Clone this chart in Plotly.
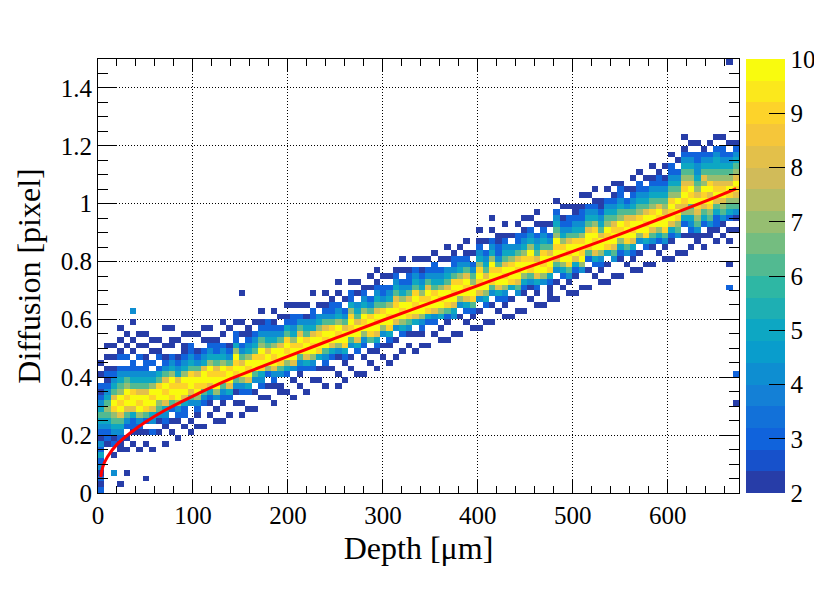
import numpy as np
import plotly.graph_objects as go

### histogram binning (100 depth bins from 0 to 675 um, 75 diffusion bins from 0 to 1.5 pixel)
n_depth_bins = 100
n_diff_bins = 75
depth_max = 675.0
diff_max = 1.5

### bin contents read column by column: first filled diffusion bin of every depth column,
### then one character per diffusion bin going up ('.' = empty, 2-9 = counts, 'a' = 10 or more)
col_start = [0, 8, 6, 7, 7, 7, 7, 7, 7, 8,
             8, 9, 9, 9, 10, 10, 11, 11, 11, 12,
             12, 13, 13, 13, 14, 14, 15, 15, 15, 16,
             16, 17, 17, 17, 18, 18, 19, 19, 19, 20,
             20, 21, 21, 21, 22, 22, 23, 23, 23, 24,
             24, 25, 25, 25, 26, 26, 27, 27, 27, 28,
             28, 29, 29, 29, 30, 30, 31, 31, 31, 32,
             32, 33, 33, 33, 34, 34, 35, 35, 35, 36,
             36, 37, 37, 37, 38, 38, 39, 39, 39, 40,
             40, 41, 41, 41, 42, 42, 43, 43, 43, 44]

col_counts = [
    "3232435342345654323.2.2", "23345676543232.2.2", "2.3245679a865432.2.2", "2234568a9a76543.32.2.2",
    "2.2.3468a9a7643.3.2.2", ".2.23358aa965433.2.2..2", "2..2347a9a86543.3.2.2", ".2.2.369aa8654332.2.2",
    "2..3.458a9a754.3.2.2", "..2.2467aa9653.32.2", "2..23458a9a86432.2..2", ".2.2.369a9a7543.22.2",
    "2..2347aa985432..2", "..2.3358a9a754322.2", "2.2..468aa965433.2", ".2.2347a9a86432..2",
    "2...3469aa8543.2.2", "..2.2358a9a75432.2", ".2.2.47aa9865332", "2..2346a9a7543.2.2",
    ".2..358aa96432..2", "..2.2469a9a7533.2", "2.2.347aa8643.2.2", ".2..358a9a754322",
    "2..2.46aa96543.2", "..2.3459a9a76432.2", ".2.2.37aa865433", "2..2348a9a75432.2",
    "..22.469aa8643.2", ".2..357a9a96532.2", "2..2.48aa975433.2", ".2.2346a9a8643.2",
    "2...358aa96542.2", "..2.347a9a85433..2", ".2.2.59aa9754.2", "2..2346a9a86432.2",
    "..2.358aa964332", ".2..247a9a7543.2.2", "2..2359aa8643.2", ".2.2.46a9a97533.2",
    "2...358aa8654.2.2", "..2.347a9a75432", ".2.2.69aa9643.2.2", "2..2358a9a865432.2",
    ".2.2.47aa96433.2", "2..2359a9a7543.2", "2..2.48aa9865432", ".2..357a9a7543.2.2",
    "..2.2469aa864332", "2..2.58a9a96543.2", ".2.2347aa975432.2", "2...359a9a8643.2",
    "..2.348aa965433.2", ".2.2.57a9a7543.2", "2..2369aa8654.2.2", ".2..458a9a964332",
    "2..2.47aa97543.2", "..2.358a9a86432.2", ".2.2369aa7643.2", "2..2.48a9a975432.2",
    ".2..357aa86543.2", "2..2.469a9a7543.2.2", "..2.358aa9643322", ".2.2347a9a865432.2",
    "2..2.59aa9754.2", ".2..468a9a86433.2", "2..2357aa975432.2", "..2.2469a9a7543.2",
    ".2.2358aa86543.2.2", "2...47a9a965432", ".2.2359aa8643.2", "2..2.468a9a76543.2",
    "..2.357aa975432.2", ".2.2469a9a86433.2", "2..2358aa9654322", ".2..47a9a9754332.2",
    "2..2.369aa86543.2", "..2.358a9a975432.2", ".2.2347aa8654322", "2..2.59a9a76543.2",
    ".2..468aa9865432.2", "2..2357a9a7654332", "..2.469aa98643.2", ".2.2358a9a865432.2",
    "2..2.47aa9765433.2", ".2..359a9a86543.2", "2..2468aa9765432.2", "..2.357a9a8654332",
    ".2.2469aa8765432.2", "2..2358a9a9765433.2", ".2..4679a8a76543.2", "2..2.35789a98765432.2",
    ".2.234576a9a876543.2", "..2246789a87654433.2", "2.2.3568a9a7865432", "..224679a8a976543.2",
    "2.233568a98765543.2", ".2.24678a98765433.2", "2.2.35679a876543.2", ".2.246789a8765432",
]

### isolated bins away from the band: depth bin, diffusion bin, count
out_col = [2, 3, 4, 7, 5, 22, 30, 37, 41, 70, 98, 98, 98, 99, 99]
out_row = [3, 1, 3, 2, 31, 34, 16, 18, 20, 34, 35, 39, 74, 15, 20]
out_count = [4, 2, 2, 2, 4, 2, 2, 2, 2, 2, 3, 2, 2, 2, 3]

### fitted curve
fit_depth = [3, 5, 10, 20, 35, 50, 70, 100, 140, 175, 200, 250, 300, 350, 400, 450, 500, 550, 600, 650, 672]
fit_diff = [0.055, 0.09, 0.125, 0.168, 0.21, 0.245, 0.285, 0.335, 0.395, 0.44, 0.472, 0.535,
            0.597, 0.657, 0.717, 0.777, 0.835, 0.895, 0.958, 1.022, 1.052]

### build the z matrix
def count_of(ch):
    if ch == '.':
        return None
    if ch == 'a':
        return 10
    return int(ch)

z = [[None] * n_depth_bins for _ in range(n_diff_bins)]
for i, (s, cells) in enumerate(zip(col_start, col_counts)):
    for k, ch in enumerate(cells):
        c = count_of(ch)
        if c is not None and s + k < n_diff_bins:
            z[s + k][i] = c + 0.01  # nudge off the contour edges
for i, j, c in zip(out_col, out_row, out_count):
    z[j][i] = c + 0.01

depth_w = depth_max / n_depth_bins
diff_w = diff_max / n_diff_bins
depth_centers = [(i + 0.5) * depth_w for i in range(n_depth_bins)]
diff_centers = [(j + 0.5) * diff_w for j in range(n_diff_bins)]

### ROOT kBird palette, 20 contour levels
stops = [0.0, 0.125, 0.25, 0.375, 0.5, 0.625, 0.75, 0.875, 1.0]
red = [0.2082, 0.0592, 0.0780, 0.0232, 0.1802, 0.5301, 0.8186, 0.9956, 0.9764]
green = [0.1664, 0.3599, 0.5041, 0.6419, 0.7178, 0.7492, 0.7328, 0.7862, 0.9832]
blue = [0.5293, 0.8684, 0.8385, 0.7914, 0.6425, 0.4662, 0.3499, 0.1968, 0.0539]
n_levels = 20
colorscale = []
for k in range(n_levels):
    f = int((k + 0.99) * 255 / n_levels) / 254.0
    rgb = 'rgb(%d,%d,%d)' % (round(255 * np.interp(f, stops, red)),
                             round(255 * np.interp(f, stops, green)),
                             round(255 * np.interp(f, stops, blue)))
    colorscale.append([k / n_levels, rgb])
    colorscale.append([(k + 1) / n_levels, rgb])

serif = "Times New Roman, Liberation Serif, serif"
label_font = dict(family=serif, size=25, color='black')

fig = go.Figure()
fig.add_trace(go.Heatmap(
    x=depth_centers, y=diff_centers, z=z,
    zmin=2, zmax=10, colorscale=colorscale, zsmooth=False,
    hoverongaps=False,
    colorbar=dict(x=1.0104, xanchor='left', xpad=0, y=0.5, yanchor='middle', ypad=0,
                  len=1, lenmode='fraction', thickness=39, thicknessmode='pixels',
                  outlinewidth=0, ticks='inside', ticklen=16, tickwidth=1, tickcolor='black',
                  tickvals=[2, 3, 4, 5, 6, 7, 8, 9, 10],
                  tickfont=label_font),
))
fig.add_trace(go.Scatter(x=fit_depth, y=fit_diff, mode='lines',
                         line=dict(color='#ff0000', width=3, shape='spline'),
                         hoverinfo='skip'))

axis_common = dict(showline=True, linecolor='black', linewidth=1, mirror='ticks',
                   ticks='inside', tickcolor='black', tickwidth=1,
                   showgrid=True, gridcolor='black', gridwidth=1, griddash='1px,2px',
                   zeroline=False, automargin=False, tickfont=label_font)

fig.update_xaxes(range=[0, depth_max], dtick=100, tick0=0, ticklen=13,
                 minor=dict(ticks='inside', ticklen=7, dtick=20, tickcolor='black', showgrid=False),
                 title=dict(text='Depth [μm]', font=dict(family=serif, size=32, color='black'), standoff=8),
                 **axis_common)
fig.update_yaxes(range=[0, diff_max], dtick=0.2, tick0=0, ticklen=19,
                 minor=dict(ticks='inside', ticklen=10, dtick=0.05, tickcolor='black', showgrid=False),
                 title=dict(text='Diffusion [pixel]', font=dict(family=serif, size=32, color='black'), standoff=10),
                 **axis_common)

### the page body adds 8 px, so the figure is 8 px smaller and shifted back
fig.update_layout(width=814, height=581, autosize=False,
                  margin=dict(l=90, r=83, t=51, b=96, autoexpand=False),
                  font=dict(family=serif, size=25, color='black'),
                  paper_bgcolor='white', plot_bgcolor='white',
                  showlegend=False)

fig.write_html("out.html")
